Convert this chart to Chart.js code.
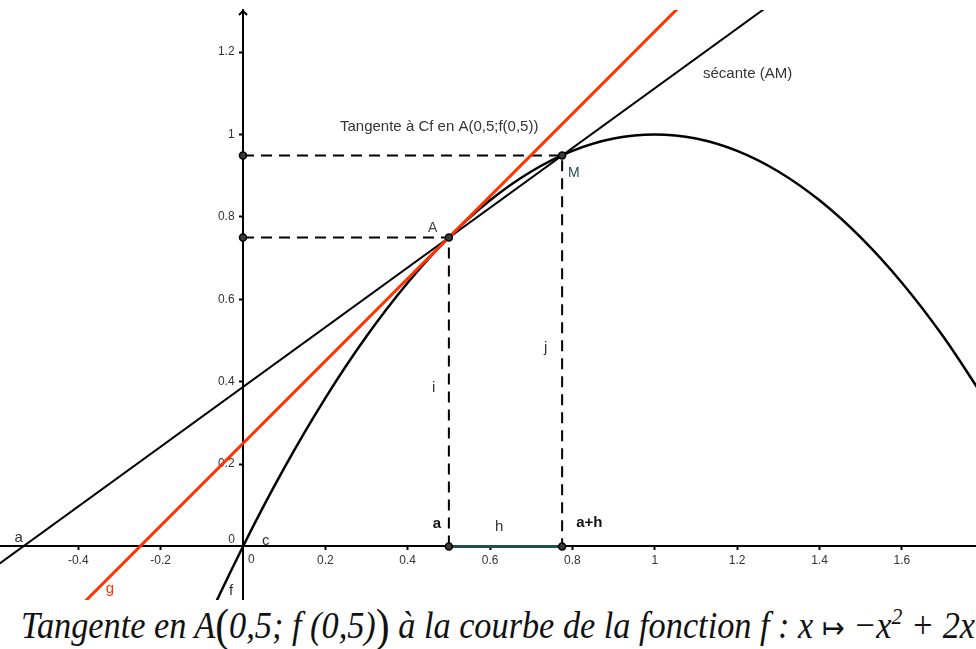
<!DOCTYPE html>
<html><head><meta charset="utf-8">
<script src="https://cdn.jsdelivr.net/npm/chart.js@4.4.1/dist/chart.umd.min.js"></script>
<style>
html,body{margin:0;padding:0;background:#fff;width:976px;height:649px;overflow:hidden}
#wrap{position:absolute;left:0;top:0;width:976px;height:600px}
#cap{position:absolute;left:21px;top:603px;font-family:"Liberation Serif",serif;font-style:italic;font-size:38px;line-height:1;white-space:nowrap;color:#111;transform-origin:0 0}
#cap .bp{font-size:46px;font-style:normal;vertical-align:-3px}
#cap .ar{font-family:"DejaVu Sans",sans-serif;font-style:normal;font-weight:normal;font-size:30px}
#cap sup{font-size:24px;vertical-align:14px;line-height:0}
</style></head><body>
<div id="wrap"><canvas id="c" width="976" height="600"></canvas></div>
<div id="cap">Tangente en A<span class="bp">(</span>0,5; f (0,5)<span class="bp">)</span> à la courbe de la fonction f : x <span class="ar">↦</span> −x<sup>2</sup> + 2x</div>
<script>
// ---- data ----
const curveX = [-0.2,-0.1,0,0.1,0.2,0.3,0.4,0.5,0.6,0.7,0.8,0.9,1,1.1,1.2,1.3,1.4,1.5,1.6,1.7,1.8];
const curveY = [-0.44,-0.21,0,0.19,0.36,0.51,0.64,0.75,0.84,0.91,0.96,0.99,1,0.99,0.96,0.91,0.84,0.75,0.64,0.51,0.36];
const tangentX = [-0.6, 1.8];
const tangentY = [-0.35, 2.05];
const secantX = [-0.6, 1.8];
const secantY = [-0.048, 1.692];
const pointA = [0.5, 0.75];
const pointM = [0.775, 0.949];
const xTicks = [-0.4,-0.2,0.2,0.4,0.6,0.8,1,1.2,1.4,1.6];
const xTickLabels = ['-0.4','-0.2','0.2','0.4','0.6','0.8','1','1.2','1.4','1.6'];
const yTicks = [0.2,0.4,0.6,0.8,1,1.2];
const yTickLabels = ['0.2','0.4','0.6','0.8','1','1.2'];
const X_MIN = -0.590, X_MAX = 1.780, Y_MIN = -0.130, Y_MAX = 1.302;

const pts = (xs, ys) => xs.map((x, i) => ({x, y: ys[i]}));
const dashA = [{x:0,y:pointA[1]},{x:pointA[0],y:pointA[1]},{x:pointA[0],y:0}];
const dashM = [{x:0,y:pointM[1]},{x:pointM[0],y:pointM[1]},{x:pointM[0],y:0}];
const hSeg = [{x:pointA[0],y:0},{x:pointM[0],y:0}];
const markers = [{x:0,y:pointA[1]},{x:0,y:pointM[1]},{x:pointA[0],y:pointA[1]},{x:pointM[0],y:pointM[1]},{x:pointA[0],y:0},{x:pointM[0],y:0}];

const textLabels = [
  {t:'a', x:-0.555, y:0.011, f:'15px "Liberation Sans"', c:'#333'},
  {t:'0', x:-0.036, y:0.009, f:'12px "Liberation Sans"', c:'#333'},
  {t:'c', x:0.046, y:0.004, f:'15px "Liberation Sans"', c:'#333'},
  {t:'0', x:0.012, y:-0.040, f:'12px "Liberation Sans"', c:'#333'},
  {t:'g', x:-0.333, y:-0.113, f:'15px "Liberation Sans"', c:'#ff3300'},
  {t:'f', x:-0.034, y:-0.118, f:'15px "Liberation Sans"', c:'#333'},
  {t:'a', x:0.461, y:0.045, f:'bold 15px "Liberation Sans"', c:'#111'},
  {t:'h', x:0.612, y:0.038, f:'15px "Liberation Sans"', c:'#333'},
  {t:'a+h', x:0.809, y:0.047, f:'bold 15px "Liberation Sans"', c:'#111'},
  {t:'A', x:0.449, y:0.763, f:'14px "Liberation Sans"', c:'#444'},
  {t:'M', x:0.789, y:0.897, f:'14px "Liberation Sans"', c:'#1f4f4f'},
  {t:'i', x:0.459, y:0.375, f:'15px "Liberation Sans"', c:'#333'},
  {t:'j', x:0.731, y:0.472, f:'15px "Liberation Sans"', c:'#333'},
  {t:'Tangente à Cf en A(0,5;f(0,5))', x:0.2356, y:1.0085, f:'15px "Liberation Sans"', c:'#333'},
  {t:'sécante (AM)', x:1.117, y:1.137, f:'15px "Liberation Sans"', c:'#333'}
];

const labelPlugin = {
  id: 'geoLabels',
  afterDatasetsDraw(chart) {
    const {ctx, scales: {x, y}, chartArea} = chart;
    ctx.save();
    ctx.textBaseline = 'alphabetic';
    ctx.textAlign = 'left';
    for (const L of textLabels) {
      ctx.font = L.f; ctx.fillStyle = L.c;
      ctx.fillText(L.t, x.getPixelForValue(L.x), y.getPixelForValue(L.y));
    }
    const ax = Math.round(x.getPixelForValue(0));
    const top = chartArea.top;
    ctx.strokeStyle = '#000'; ctx.lineWidth = 2;
    ctx.beginPath(); ctx.moveTo(ax - 4, top + 5); ctx.lineTo(ax, top + 1); ctx.lineTo(ax + 4, top + 5); ctx.stroke();
    ctx.restore();
  }
};

const zeroPad = s => { s.paddingLeft = 0; s.paddingRight = 0; s.paddingTop = 0; s.paddingBottom = 0; };
const tickFont = {family: '"Liberation Sans", Arial, sans-serif', size: 12};
const lineBase = {showLine: true, pointRadius: 0, pointHoverRadius: 0, fill: false, clip: 0};

new Chart(document.getElementById('c'), {
  type: 'scatter',
  data: {
    datasets: [
      {...lineBase, data: markers, showLine: false, pointRadius: 3.5, pointBackgroundColor: '#3a3a3a', pointBorderColor: '#000', pointBorderWidth: 1.5, order: 0},
      {...lineBase, data: pts(tangentX, tangentY), borderColor: '#ff3300', borderWidth: 3, order: 1},
      {...lineBase, data: hSeg, borderColor: '#1f4f4f', borderWidth: 3, order: 2},
      {...lineBase, data: pts(curveX, curveY), borderColor: '#000', borderWidth: 2.5, cubicInterpolationMode: 'monotone', capBezierPoints: false, order: 3},
      {...lineBase, data: pts(secantX, secantY), borderColor: '#000', borderWidth: 2, order: 4},
      {...lineBase, data: dashA, borderColor: '#000', borderWidth: 2, borderDash: [11, 7], order: 5},
      {...lineBase, data: dashM, borderColor: '#000', borderWidth: 2, borderDash: [11, 7], order: 5}
    ]
  },
  options: {
    responsive: false, animation: false, events: [],
    layout: {autoPadding: false, padding: {top: 10, left: 0, right: 0, bottom: 0}},
    plugins: {legend: {display: false}, tooltip: {enabled: false}},
    scales: {
      x: {
        type: 'linear', min: X_MIN, max: X_MAX, position: {y: 0},
        afterBuildTicks: s => { s.ticks = xTicks.map(v => ({value: v})); },
        afterFit: zeroPad,
        ticks: {autoSkip: false, maxRotation: 0, padding: 4, color: '#333', font: tickFont,
          callback: (v, i) => xTickLabels[i]},
        grid: {display: true, drawOnChartArea: false, drawTicks: true, tickLength: 3, tickWidth: 2, tickColor: '#000'},
        border: {display: true, color: '#000', width: 2}
      },
      y: {
        type: 'linear', min: Y_MIN, max: Y_MAX, position: {x: 0},
        afterBuildTicks: s => { s.ticks = yTicks.map(v => ({value: v})); },
        afterFit: zeroPad,
        ticks: {autoSkip: false, padding: 2, color: '#333', font: tickFont,
          callback: (v, i) => yTickLabels[i] + '\u2002\u2009'},
        grid: {display: true, drawOnChartArea: false, drawTicks: true, tickLength: 3, tickWidth: 2, tickColor: '#000'},
        border: {display: true, color: '#000', width: 2}
      }
    }
  },
  plugins: [labelPlugin]
});

const cap = document.getElementById('cap');
const fit = () => { cap.style.transform = 'none'; const w = cap.getBoundingClientRect().width; cap.style.transform = 'scaleX(' + (954 / w) + ')'; };
fit();
if (document.fonts && document.fonts.ready) document.fonts.ready.then(fit);
</script>
</body></html>
